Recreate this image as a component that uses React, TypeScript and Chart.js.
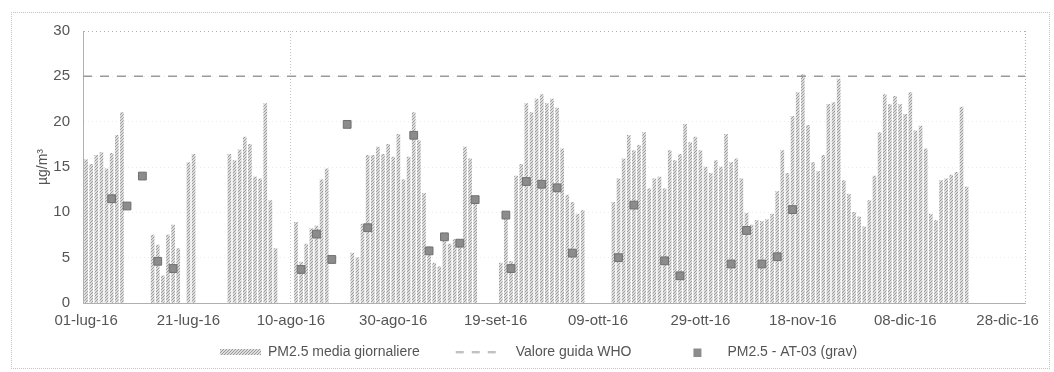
import React, { useEffect, useRef } from 'react';
import { Chart, registerables } from 'chart.js';

Chart.register(...registerables);

// Days counted from 01-lug-16
const tickDays = [0, 20, 40, 60, 80, 100, 120, 140, 160, 180];
const tickLabels = ['01-lug-16', '21-lug-16', '10-ago-16', '30-ago-16', '19-set-16', '09-ott-16', '29-ott-16', '18-nov-16', '08-dic-16', '28-dic-16'];
const X_MIN = -0.6;
const X_MAX = 183.4;
const WHO_VALUE = 25;

const seriesLabels = ['PM2.5 media giornaliere', 'Valore guida WHO', 'PM2.5 - AT-03 (grav)'];

// PM2.5 daily means, one value per day starting 01-lug-16 (null = no data)
const pm25Daily: (number | null)[] = [
  15.8, 15.3, 16.3, 16.6, 14.8, 16.5, 18.5, 21.0, null, null,
  null, null, null, 7.5, 6.4, 3.0, 7.5, 8.6, 6.0, null,
  15.5, 16.4, null, null, null, null, null, null, 16.4, 15.7,
  16.9, 18.3, 17.5, 13.9, 13.7, 22.0, 11.3, 6.0, null, null,
  null, 8.9, 4.5, 6.5, 8.2, 8.5, 13.6, 14.8, null, null,
  null, null, 5.5, 5.0, 8.7, 16.3, 16.3, 17.2, 16.4, 17.5,
  16.1, 18.6, 13.6, 16.1, 21.0, 17.9, 12.1, 6.2, 4.4, 4.0,
  7.5, 6.5, 7.0, 7.0, 17.2, 15.9, 11.6, null, null, null,
  null, 4.4, 9.9, 4.6, 14.0, 15.3, 22.0, 21.0, 22.5, 23.0,
  22.0, 22.5, 21.5, 17.0, 11.9, 11.1, 9.8, 10.2, null, null,
  null, null, null, 11.1, 13.7, 15.9, 18.5, 16.8, 17.4, 18.8,
  12.6, 13.7, 13.9, 12.6, 16.8, 15.7, 16.4, 19.7, 17.7, 18.3,
  16.8, 15.0, 14.3, 15.7, 15.0, 18.6, 15.5, 15.9, 13.7, 9.9,
  8.6, 9.1, 9.0, 9.2, 9.8, 12.3, 16.8, 14.3, 20.6, 23.2,
  25.2, 19.6, 15.5, 14.5, 16.3, 21.9, 22.1, 24.7, 13.5, 12.0,
  10.0, 9.5, 8.4, 11.3, 14.0, 18.8, 23.0, 21.9, 22.8, 21.9,
  20.8, 23.2, 19.0, 19.5, 17.0, 9.8, 9.1, 13.5, 13.7, 14.1,
  14.4, 21.6, 12.8,
];

// Gravimetric samples AT-03: day offset and value
const gravDays = [5, 8, 11, 14, 17, 42, 45, 48, 51, 55, 64, 67, 70, 73, 76, 82, 83, 86, 89, 92, 95, 104, 107, 113, 116, 126, 129, 132, 135, 138];
const gravValues = [11.5, 10.7, 14.0, 4.6, 3.8, 3.7, 7.6, 4.8, 19.7, 8.3, 18.5, 5.75, 7.3, 6.6, 11.4, 9.7, 3.8, 13.4, 13.1, 12.7, 5.5, 5.0, 10.8, 4.65, 3.0, 4.3, 8.0, 4.3, 5.1, 10.3];

const FONT = "'Liberation Sans', Arial, sans-serif";
const TEXT = '#555555';
const LEGEND_BOX = 77;

function makeBarPatternCanvas(): HTMLCanvasElement {
  const c = document.createElement('canvas');
  c.width = 3;
  c.height = 3;
  const g = c.getContext('2d')!;
  g.fillStyle = '#dcdcdc';
  g.fillRect(0, 0, 3, 3);
  g.fillStyle = '#9c9c9c';
  g.fillRect(0, 0, 1, 1);
  g.fillRect(2, 1, 1, 1);
  g.fillRect(1, 2, 1, 1);
  return c;
}

export default function App() {
  const ref = useRef<HTMLCanvasElement>(null);

  useEffect(() => {
    const canvas = ref.current!;
    const ctx = canvas.getContext('2d')!;
    Chart.defaults.font.family = FONT;

    const pc = makeBarPatternCanvas();
    const pattern = ctx.createPattern(pc, 'repeat')!;

    // legend swatches (same width as the legend box, content offset inside)
    const sw1 = document.createElement('canvas');
    sw1.width = LEGEND_BOX; sw1.height = 6;
    const g1 = sw1.getContext('2d')!;
    g1.fillStyle = g1.createPattern(pc, 'repeat')!;
    g1.fillRect(36, 0, 45, 6);

    const sw2 = document.createElement('canvas');
    sw2.width = LEGEND_BOX; sw2.height = 3;
    const g2 = sw2.getContext('2d')!;
    g2.strokeStyle = '#9a9a9a';
    g2.lineWidth = 1.5;
    g2.setLineDash([8, 8]);
    g2.beginPath();
    g2.moveTo(24, 1.5);
    g2.lineTo(72, 1.5);
    g2.stroke();

    const sw3 = document.createElement('canvas');
    sw3.width = LEGEND_BOX; sw3.height = 9;
    const g3 = sw3.getContext('2d')!;
    g3.fillStyle = '#8c8c8c';
    g3.fillRect(50, 1, 8, 8);

    const barData = pm25Daily
      .map((v, i) => ({ x: i, y: v }))
      .filter((p) => p.y !== null);
    const gravData = gravDays.map((d, i) => ({ x: d, y: gravValues[i] }));

    const chart = new Chart(ctx, {
      type: 'bar',
      data: {
        datasets: [
          {
            type: 'bar',
            label: seriesLabels[0],
            data: barData as any,
            backgroundColor: pattern as any,
            borderWidth: 0,
            barThickness: 3,
            order: 3,
          },
          {
            type: 'line',
            label: seriesLabels[1],
            data: [
              { x: X_MIN, y: WHO_VALUE },
              { x: X_MAX, y: WHO_VALUE },
            ] as any,
            borderColor: '#9a9a9a',
            borderWidth: 1.5,
            borderDash: [9, 8],
            pointRadius: 0,
            fill: false,
            order: 2,
          },
          {
            type: 'line',
            label: seriesLabels[2],
            data: gravData as any,
            showLine: false,
            pointStyle: 'rect',
            pointRadius: 5.5,
            pointBackgroundColor: '#8c8c8c',
            pointBorderColor: '#707070',
            pointBorderWidth: 1,
            order: 1,
          },
        ],
      },
      options: {
        responsive: false,
        animation: false,
        events: [],
        layout: { padding: { top: 31, right: 29, bottom: 3, left: 16 } },
        plugins: {
          tooltip: { enabled: false },
          legend: {
            position: 'bottom',
            labels: {
              usePointStyle: true,
              pointStyleWidth: LEGEND_BOX,
              padding: 12,
              color: TEXT,
              font: { size: 14, family: FONT },
              generateLabels: () => [
                { text: seriesLabels[0], fillStyle: '#bbb', strokeStyle: '#bbb', lineWidth: 0, pointStyle: sw1 as any, hidden: false, datasetIndex: 0, fontColor: TEXT } as any,
                { text: seriesLabels[1], fillStyle: '#999', strokeStyle: '#999', lineWidth: 0, pointStyle: sw2 as any, hidden: false, datasetIndex: 1, fontColor: TEXT } as any,
                { text: seriesLabels[2], fillStyle: '#888', strokeStyle: '#888', lineWidth: 0, pointStyle: sw3 as any, hidden: false, datasetIndex: 2, fontColor: TEXT } as any,
              ],
            },
          },
        },
        scales: {
          x: {
            type: 'linear',
            min: X_MIN,
            max: X_MAX,
            offset: false,
            afterBuildTicks: (s: any) => {
              s.ticks = [...tickDays.map((v) => ({ value: v })), { value: X_MAX }];
            },
            afterFit: (s: any) => {
              s.height = 30;
            },
            ticks: {
              autoSkip: false,
              maxRotation: 0,
              padding: 9,
              color: TEXT,
              font: { size: 15, family: FONT },
              callback: (v: any) => {
                const i = tickDays.indexOf(Number(v));
                return i >= 0 ? tickLabels[i] : '';
              },
            },
            grid: {
              offset: false,
              drawTicks: false,
              lineWidth: 1,
              color: (c: any) => {
                const v = c.tick ? c.tick.value : null;
                if (v === 40) return '#c4c4c4';
                if (v === X_MAX) return '#b0b0b0';
                return 'rgba(0,0,0,0)';
              },
            },
            border: { display: true, color: '#b0b0b0', dash: [1, 2] },
          } as any,
          y: {
            min: 0,
            max: 30,
            afterFit: (s: any) => {
              s.width = 67;
            },
            ticks: { stepSize: 5, padding: 13, color: TEXT, font: { size: 15, family: FONT } },
            grid: {
              drawTicks: false,
              color: (c: any) => (c.tick && c.tick.value === 30 ? '#b0b0b0' : '#ececec'),
            },
            border: { display: true, color: '#b0b0b0', dash: [1, 3] },
            title: {
              display: true,
              text: 'µg/m³',
              color: TEXT,
              font: { size: 14, family: FONT },
              padding: { top: 18.6, bottom: 0 },
            },
          } as any,
        },
      },
    });
    return () => chart.destroy();
  }, []);

  return (
    <div style={{ position: 'fixed', left: 0, top: 0, width: 1054, height: 372, background: '#fff', overflow: 'hidden' }}>
      <div style={{ position: 'absolute', left: 11, top: 12, width: 1037, height: 355, border: '1px dotted #c4c4c4' }} />
      <canvas ref={ref} width={1054} height={372} style={{ position: 'absolute', left: 0, top: 0 }} />
    </div>
  );
}
